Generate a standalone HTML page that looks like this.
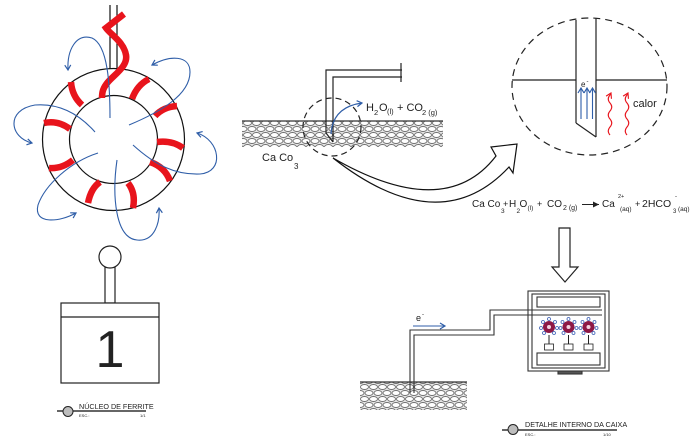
<!DOCTYPE html>
<html><head><meta charset="utf-8"><style>
html,body{margin:0;padding:0;background:#fff;}
svg{display:block;}
text{font-family:"Liberation Sans",Arial,sans-serif;fill:#222;}
</style></head><body>
<svg width="693" height="446" viewBox="0 0 693 446" xmlns="http://www.w3.org/2000/svg">
<defs>
<marker id="ab" markerWidth="10" markerHeight="10" refX="6" refY="4" orient="auto" markerUnits="userSpaceOnUse">
<path d="M1,1 L6,4 L1,7" fill="none" stroke="#2f5ea8" stroke-width="1.2"/></marker>
<marker id="ar" markerWidth="10" markerHeight="10" refX="6" refY="4" orient="auto" markerUnits="userSpaceOnUse">
<path d="M1,1 L6,4 L1,7" fill="none" stroke="#e8141c" stroke-width="1.1"/></marker>
<marker id="ak" markerWidth="10" markerHeight="10" refX="6" refY="4" orient="auto" markerUnits="userSpaceOnUse">
<path d="M0,1 L6,4 L0,7 Z" fill="#222"/></marker>
<pattern id="cob" width="18" height="12" patternUnits="userSpaceOnUse">
<rect width="18" height="12" fill="#e6e6e6"/>
<g fill="#fff" stroke="#6e6e6e" stroke-width="0.9">
<ellipse cx="4.5" cy="3" rx="4" ry="2.5"/>
<ellipse cx="13.5" cy="3" rx="4" ry="2.5"/>
<ellipse cx="0" cy="9" rx="4" ry="2.5"/>
<ellipse cx="9" cy="9" rx="4" ry="2.5"/>
<ellipse cx="18" cy="9" rx="4" ry="2.5"/>
</g></pattern>
</defs>

<!-- ===== TOROID ===== -->
<g fill="none" stroke="#111" stroke-width="1.2">
<circle cx="113.5" cy="139.5" r="71"/>
<circle cx="113.5" cy="139.5" r="44"/>
<line x1="110" y1="5" x2="110" y2="69"/>
<line x1="117" y1="5" x2="117" y2="69"/>
</g>
<g fill="none" stroke="#e8141c" stroke-width="6.5" stroke-linecap="butt">
<path d="M124,14 L106,28 C110,34 124,42 126,55 C128,66 115,74 108,82 C103,88 102,92 102,98"/>
<path d="M71,82 Q72,96 82,105"/>
<path d="M149,79 Q137,85 132,99"/>
<path d="M155,116 Q163,107 177,106"/>
<path d="M157,142 Q172,140 183,148"/>
<path d="M150,162 Q165,167 170,181"/>
<path d="M128,183 Q136,193 133,208"/>
<path d="M100,182 Q91,188 88,203"/>
<path d="M73,160 Q62,169 49,168"/>
<path d="M70,129 Q58,120 44,123"/>
</g>
<g fill="none" stroke="#2f5ea8" stroke-width="1.1" marker-end="url(#ab)">
<path d="M110,118 C110,85 108,45 92,38 C76,33 67,50 68,70"/>
<path d="M129,125 C160,112 190,95 190,72 C190,55 170,55 152,65"/>
<path d="M95,132 C80,115 60,103 35,105 C5,110 10,138 32,143"/>
<path d="M133,145 C155,165 175,175 200,174 C225,172 220,140 197,133"/>
<path d="M98,153 C70,162 45,185 38,205 C33,225 60,222 76,213"/>
<path d="M117,160 C112,195 115,238 137,240 C155,242 160,222 159,208"/>
</g>

<!-- ===== SWITCH 1 ===== -->
<g fill="#fff" stroke="#222" stroke-width="1.2">
<rect x="105" y="266" width="10" height="37"/>
<circle cx="110" cy="257" r="11"/>
<rect x="61" y="303" width="98" height="80"/>
<line x1="61" y1="317" x2="159" y2="317"/>
</g>
<text x="110" y="367" font-size="52" text-anchor="middle" fill="#000">1</text>

<!-- title 1 -->
<line x1="57" y1="411" x2="146" y2="411" stroke="#333" stroke-width="1.4"/>
<circle cx="68" cy="411.5" r="5" fill="#bdbdbd" stroke="#222" stroke-width="1"/>
<text x="79" y="409" font-size="7.2">NÚCLEO DE FERRITE</text>
<text x="79" y="417" font-size="4" fill="#777">ESC.:</text>
<text x="140" y="417" font-size="4" fill="#777">1/1</text>

<!-- ===== GROUND 1 ===== -->
<rect x="242" y="121" width="201" height="26" fill="url(#cob)"/>
<line x1="242" y1="121" x2="443" y2="121" stroke="#333" stroke-width="1.2"/>

<!-- pipe top -->
<g fill="none" stroke="#222" stroke-width="1.2">
<path d="M326,133 L326,70 L402,70"/>
<path d="M333,142 L333,77 L402,77"/>
<line x1="326" y1="133" x2="333" y2="142"/>
<line x1="401" y1="63" x2="401" y2="82"/>
</g>
<circle cx="332" cy="127" r="29" fill="none" stroke="#222" stroke-width="1.2" stroke-dasharray="6,4"/>
<path d="M331,134 C332,118 340,106 362,103" fill="none" stroke="#2f5ea8" stroke-width="1.2" marker-end="url(#ab)"/>
<text x="366" y="111" font-size="11">H</text>
<text x="374" y="115" font-size="7.5">2</text>
<text x="379" y="111" font-size="11">O</text>
<text x="387" y="114" font-size="7.5">(l)</text>
<text x="397" y="111" font-size="11">+ CO</text>
<text x="422" y="115" font-size="7.5">2 (g)</text>
<text x="262" y="161" font-size="11">Ca Co</text>
<text x="294" y="169" font-size="8">3</text>

<!-- big curved arrow -->
<path d="M333,158 Q445,222.5 496,156 L491,147 L517,144 L513,173 L509,167 Q439.5,241.5 333,158 Z" fill="#fff" stroke="#111" stroke-width="1.2" stroke-linejoin="miter"/>

<!-- ===== DETAIL CIRCLE ===== -->
<ellipse cx="589.5" cy="86.5" rx="77.5" ry="68.5" fill="none" stroke="#222" stroke-width="1.2" stroke-dasharray="7,5"/>
<g fill="none" stroke="#222" stroke-width="1.2">
<line x1="512" y1="80" x2="576" y2="80"/>
<line x1="596" y1="80" x2="667" y2="80"/>
<line x1="576" y1="20" x2="576" y2="123"/>
<line x1="596" y1="18" x2="596" y2="137"/>
<line x1="576" y1="123" x2="596" y2="137"/>
</g>
<text x="581" y="87" font-size="8">e</text>
<text x="586.5" y="83" font-size="6">-</text>
<g stroke="#2f5ea8" stroke-width="1.1" fill="none" marker-end="url(#ab)">
<line x1="581" y1="119" x2="581" y2="88"/>
<line x1="587" y1="119" x2="587" y2="88"/>
<line x1="592.5" y1="119" x2="592.5" y2="88"/>
</g>
<g stroke="#e8141c" stroke-width="1.1" fill="none" marker-end="url(#ar)">
<path d="M610,135 q-3.5,-4 0,-8 q3.5,-4 0,-8 q-3.5,-4 0,-8 q3.5,-4 0,-8 q-3.5,-4 0,-8 l1,-2"/>
<path d="M627,135 q-3.5,-4 0,-8 q3.5,-4 0,-8 q-3.5,-4 0,-8 q3.5,-4 0,-8 q-3.5,-4 0,-8 l1,-2"/>
</g>
<text x="633" y="107" font-size="11">calor</text>

<!-- equation -->
<g font-size="10">
<text x="472" y="207">Ca Co</text>
<text x="501" y="213" font-size="6.5">3</text>
<text x="503" y="207" font-size="9">+</text>
<text x="509" y="207">H</text>
<text x="516.5" y="213" font-size="6.5">2</text>
<text x="519.5" y="207">O</text>
<text x="527.5" y="210" font-size="6.5">(l)</text>
<text x="537" y="207" font-size="9">+</text>
<text x="547" y="207">CO</text>
<text x="563" y="210" font-size="7">2 (g)</text>
<text x="602" y="207">Ca</text>
<text x="618" y="198" font-size="5.5">2+</text>
<text x="620" y="211" font-size="6.5">(aq)</text>
<text x="635" y="207" font-size="9">+</text>
<text x="642" y="207" font-size="10.5">2HCO</text>
<text x="673" y="213" font-size="6">3</text>
<text x="675" y="198" font-size="6">-</text>
<text x="678" y="211" font-size="6.5">(aq)</text>
</g>
<line x1="582" y1="204.5" x2="599" y2="204.5" stroke="#222" stroke-width="1" marker-end="url(#ak)"/>

<!-- down arrow -->
<path d="M559,228 L570,228 L570,267 L578,267 L565,282 L552,267 L559,267 Z" fill="#fff" stroke="#222" stroke-width="1.2"/>

<!-- ===== BOX ===== -->
<g fill="#fff" stroke="#333" stroke-width="1.1">
<rect x="558" y="370" width="24" height="4" fill="#555"/>
<rect x="528" y="291" width="81" height="80"/>
<rect x="532" y="294" width="73" height="74"/>
<rect x="537" y="297" width="63" height="10"/>
<rect x="537" y="353" width="63" height="12"/>
</g>
<!-- pipe bottom -->
<g fill="none" stroke="#333" stroke-width="1.1">
<path d="M410,393 L410,330 L490,330 L490,310 L602,310"/>
<path d="M414,393 L414,335 L494,335 L494,315 L602,315"/>
</g>
<!-- ferrite cores -->
<g>
<g transform="translate(549,327)">
<circle r="6" fill="#8e1846"/>
<circle r="2" fill="#f3d3e0"/>
<g fill="#fff" stroke="#3b5fb5" stroke-width="0.8"><circle cx="0" cy="-8" r="1.5"/><circle cx="6" cy="-5" r="1.5"/><circle cx="8" cy="1" r="1.5"/><circle cx="5" cy="6" r="1.5"/><circle cx="-5" cy="6" r="1.5"/><circle cx="-8" cy="1" r="1.5"/><circle cx="-6" cy="-5" r="1.5"/></g>
<line x1="0" y1="8" x2="0" y2="17" stroke="#222"/>
<rect x="-4.5" y="17" width="9" height="6" fill="#fff" stroke="#222" stroke-width="0.8"/>
</g>
<g transform="translate(568.5,327)">
<circle r="6" fill="#8e1846"/>
<circle r="2" fill="#f3d3e0"/>
<g fill="#fff" stroke="#3b5fb5" stroke-width="0.8"><circle cx="0" cy="-8" r="1.5"/><circle cx="6" cy="-5" r="1.5"/><circle cx="8" cy="1" r="1.5"/><circle cx="5" cy="6" r="1.5"/><circle cx="-5" cy="6" r="1.5"/><circle cx="-8" cy="1" r="1.5"/><circle cx="-6" cy="-5" r="1.5"/></g>
<line x1="0" y1="8" x2="0" y2="17" stroke="#222"/>
<rect x="-4.5" y="17" width="9" height="6" fill="#fff" stroke="#222" stroke-width="0.8"/>
</g>
<g transform="translate(588.5,327)">
<circle r="6" fill="#8e1846"/>
<circle r="2" fill="#f3d3e0"/>
<g fill="#fff" stroke="#3b5fb5" stroke-width="0.8"><circle cx="0" cy="-8" r="1.5"/><circle cx="6" cy="-5" r="1.5"/><circle cx="8" cy="1" r="1.5"/><circle cx="5" cy="6" r="1.5"/><circle cx="-5" cy="6" r="1.5"/><circle cx="-8" cy="1" r="1.5"/><circle cx="-6" cy="-5" r="1.5"/></g>
<line x1="0" y1="8" x2="0" y2="17" stroke="#222"/>
<rect x="-4.5" y="17" width="9" height="6" fill="#fff" stroke="#222" stroke-width="0.8"/>
</g>
</g>

<!-- e- arrow -->
<text x="416" y="321" font-size="9">e</text>
<text x="422" y="316" font-size="6">-</text>
<line x1="413" y1="326" x2="445" y2="326" stroke="#2f5ea8" stroke-width="1.1" marker-end="url(#ab)"/>

<!-- ground 2 -->
<rect x="360" y="382" width="107" height="28" fill="url(#cob)"/>
<line x1="360" y1="382" x2="467" y2="382" stroke="#333" stroke-width="1.2"/>
<g fill="none" stroke="#333" stroke-width="1.1">
<line x1="410" y1="382" x2="410" y2="393"/>
<line x1="414" y1="382" x2="414" y2="393"/>
</g>

<!-- title 2 -->
<line x1="502" y1="430" x2="617" y2="430" stroke="#333" stroke-width="1.4"/>
<circle cx="513" cy="429.5" r="5" fill="#bdbdbd" stroke="#222" stroke-width="1"/>
<text x="525" y="427" font-size="7.2">DETALHE INTERNO DA CAIXA</text>
<text x="525" y="436" font-size="4" fill="#777">ESC.:</text>
<text x="603" y="436" font-size="4" fill="#777">1/10</text>
</svg>
</body></html>
